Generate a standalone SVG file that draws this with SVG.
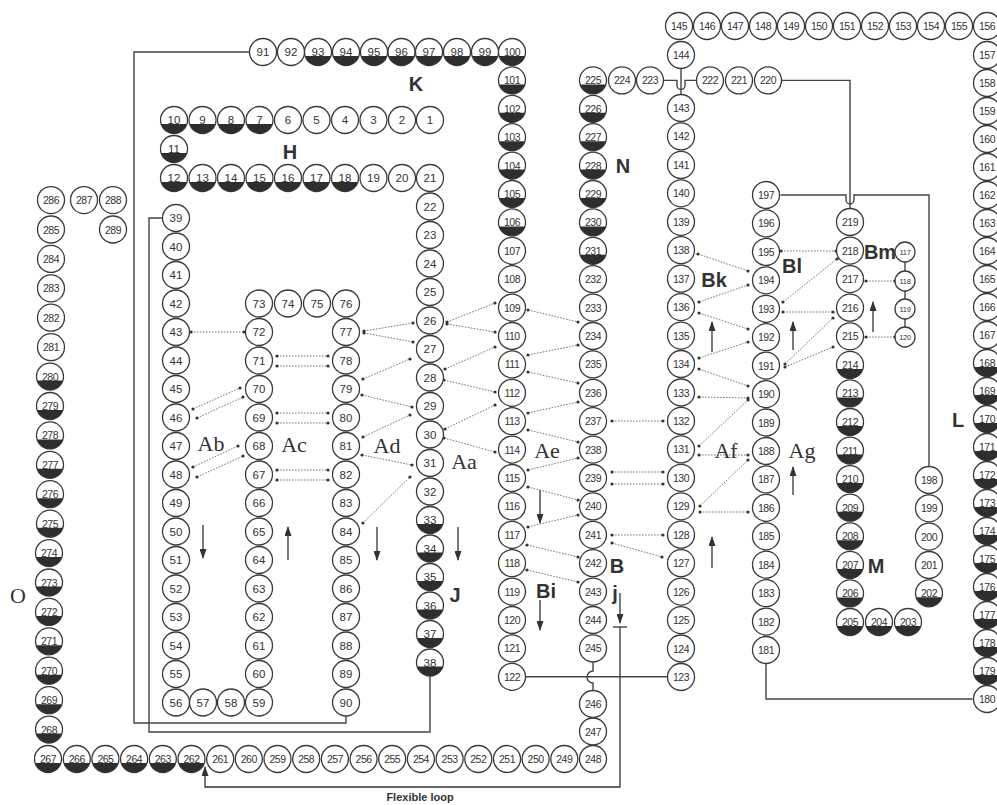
<svg xmlns="http://www.w3.org/2000/svg" width="997" height="805" viewBox="0 0 997 805">
<style>
.c{fill:#fff;stroke:#3a3a3a;stroke-width:1.3}
.cap{fill:#2e2e2e}
.n text{font-family:"Liberation Sans",Arial,sans-serif;font-size:11.5px;text-anchor:middle;fill:#333}
.n text.w{font-size:10.5px;letter-spacing:-0.5px}
.s text{font-family:"Liberation Sans",Arial,sans-serif;font-size:7.5px;text-anchor:middle;fill:#333;letter-spacing:-0.3px}
.ln{fill:none;stroke:#444;stroke-width:1.4}
.hb{stroke:#777;stroke-width:1;stroke-dasharray:1.6 1.4;marker-start:url(#dt);marker-end:url(#dt)}
.ar{fill:none;stroke:#333;stroke-width:1.3;marker-end:url(#ah)}
.lb{font-family:"Liberation Sans",Arial,sans-serif;font-weight:bold;font-size:20px;fill:#333;text-anchor:middle}
.ls{font-family:"Liberation Serif","Times New Roman",serif;font-size:22px;fill:#333;text-anchor:middle}
</style>
<defs>
<g id="W"><circle r="13.5" class="c"/></g>
<g id="D"><circle r="13.5" class="c"/><path class="cap" d="M-12.89,4 a13.5,13.5 0 0 0 25.78,0z"/></g>
<marker id="dt" viewBox="0 0 4 4" refX="2" refY="2" markerWidth="4" markerHeight="4" markerUnits="userSpaceOnUse"><circle cx="2" cy="2" r="1.6" fill="#333"/></marker>
<marker id="ah" viewBox="0 0 10 7" refX="9" refY="3.5" markerWidth="10" markerHeight="7" markerUnits="userSpaceOnUse" orient="auto"><path d="M0,0 L10,3.5 L0,7z" fill="#333"/></marker>
</defs>
<rect width="997" height="805" fill="#fff"/>
<g id="connectors">
<path class="ln" d="M346,716 V723 H134 V52 H249.5"/>
<path class="ln" d="M430,676 V732 H149 V218 H162.5"/>
<path class="ln" d="M781.5,80.4 H850 V208.5"/>
<path class="ln" d="M780.5,195 H846 v5 a4,4 0 0 0 8,0 v-5 H929 V466.5"/>
<path class="ln" d="M663.5,80.4 H677 v5 a4,4 0 0 0 8,0 v-5 H696.5"/>
<path class="ln" d="M681,68.5 V94.5"/>
<path class="ln" d="M525.5,676.8 H667.5"/>
<path class="ln" d="M593,662 V671 a6,6 0 0 0 0,12 V690.5"/>
<path class="ln" d="M766,663.5 V699 H972.5"/>
<path class="ln" d="M905,262 V271 M905,291 V299 M905,319 V327"/>
<path class="ln" d="M613,627 H627"/>
<path class="ar" d="M620,627 V787 H205 V767"/>
<path class="ar" d="M620,593 V623"/>
<path class="ar" d="M203,525 V558"/>
<path class="ar" d="M288,560 V527"/>
<path class="ar" d="M377,527 V560"/>
<path class="ar" d="M458,527 V560"/>
<path class="ar" d="M540,490 V523"/>
<path class="ar" d="M540,600 V630"/>
<path class="ar" d="M712,352 V322"/>
<path class="ar" d="M712,568 V537"/>
<path class="ar" d="M793,350 V322"/>
<path class="ar" d="M793,495 V467"/>
<path class="ar" d="M873,332 V302"/>
<line class="hb" x1="191" y1="332" x2="244" y2="332"/>
<line class="hb" x1="193" y1="409" x2="240" y2="388"/>
<line class="hb" x1="197" y1="418" x2="243" y2="397"/>
<line class="hb" x1="193" y1="467" x2="238" y2="446"/>
<line class="hb" x1="197" y1="477" x2="243" y2="456"/>
<line class="hb" x1="277" y1="356" x2="328" y2="356"/>
<line class="hb" x1="277" y1="366" x2="328" y2="366"/>
<line class="hb" x1="277" y1="413" x2="328" y2="413"/>
<line class="hb" x1="277" y1="423" x2="328" y2="423"/>
<line class="hb" x1="277" y1="470" x2="328" y2="470"/>
<line class="hb" x1="277" y1="480" x2="328" y2="480"/>
<line class="hb" x1="364" y1="331" x2="413" y2="323"/>
<line class="hb" x1="364" y1="333" x2="413" y2="342"/>
<line class="hb" x1="363" y1="379" x2="410" y2="359"/>
<line class="hb" x1="362" y1="395" x2="412" y2="407"/>
<line class="hb" x1="363" y1="437" x2="410" y2="415"/>
<line class="hb" x1="362" y1="455" x2="412" y2="465"/>
<line class="hb" x1="363" y1="523" x2="410" y2="477"/>
<line class="hb" x1="447" y1="322" x2="495" y2="303"/>
<line class="hb" x1="447" y1="324" x2="495" y2="332"/>
<line class="hb" x1="445" y1="369" x2="495" y2="347"/>
<line class="hb" x1="444" y1="380" x2="495" y2="392"/>
<line class="hb" x1="445" y1="429" x2="495" y2="405"/>
<line class="hb" x1="444" y1="438" x2="495" y2="452"/>
<line class="hb" x1="528" y1="310" x2="578" y2="322"/>
<line class="hb" x1="528" y1="355" x2="578" y2="345"/>
<line class="hb" x1="528" y1="372" x2="578" y2="383"/>
<line class="hb" x1="528" y1="413" x2="578" y2="402"/>
<line class="hb" x1="528" y1="430" x2="578" y2="442"/>
<line class="hb" x1="528" y1="470" x2="578" y2="458"/>
<line class="hb" x1="528" y1="487" x2="578" y2="500"/>
<line class="hb" x1="528" y1="527" x2="578" y2="515"/>
<line class="hb" x1="527" y1="545" x2="578" y2="557"/>
<line class="hb" x1="527" y1="570" x2="578" y2="582"/>
<line class="hb" x1="612" y1="421" x2="663" y2="421"/>
<line class="hb" x1="612" y1="472" x2="663" y2="472"/>
<line class="hb" x1="612" y1="484" x2="663" y2="484"/>
<line class="hb" x1="612" y1="535" x2="663" y2="535"/>
<line class="hb" x1="612" y1="543" x2="662" y2="557"/>
<line class="hb" x1="698" y1="254" x2="748" y2="271"/>
<line class="hb" x1="699" y1="302" x2="748" y2="285"/>
<line class="hb" x1="699" y1="313" x2="748" y2="329"/>
<line class="hb" x1="699" y1="358" x2="748" y2="342"/>
<line class="hb" x1="699" y1="369" x2="748" y2="386"/>
<line class="hb" x1="699" y1="397" x2="748" y2="398"/>
<line class="hb" x1="699" y1="446" x2="748" y2="400"/>
<line class="hb" x1="699" y1="455" x2="748" y2="455"/>
<line class="hb" x1="700" y1="506" x2="748" y2="460"/>
<line class="hb" x1="700" y1="512" x2="748" y2="512"/>
<line class="hb" x1="781" y1="251" x2="836" y2="251"/>
<line class="hb" x1="783" y1="302" x2="837" y2="259"/>
<line class="hb" x1="783" y1="312" x2="833" y2="312"/>
<line class="hb" x1="785" y1="364" x2="833" y2="318"/>
<line class="hb" x1="785" y1="367" x2="833" y2="347"/>
<line class="hb" x1="866" y1="281" x2="895" y2="281"/>
<line class="hb" x1="866" y1="337" x2="895" y2="337"/>
</g>
<g class="n">
<g id="n1" transform="translate(430,120)"><use href="#W"/><text y="4">1</text></g>
<g id="n2" transform="translate(402,120)"><use href="#W"/><text y="4">2</text></g>
<g id="n3" transform="translate(373.5,120)"><use href="#W"/><text y="4">3</text></g>
<g id="n4" transform="translate(345,120)"><use href="#W"/><text y="4">4</text></g>
<g id="n5" transform="translate(316.5,120)"><use href="#W"/><text y="4">5</text></g>
<g id="n6" transform="translate(288,120)"><use href="#W"/><text y="4">6</text></g>
<g id="n7" transform="translate(259.5,120)"><use href="#D"/><text y="4">7</text></g>
<g id="n8" transform="translate(231,120)"><use href="#D"/><text y="4">8</text></g>
<g id="n9" transform="translate(202.5,120)"><use href="#D"/><text y="4">9</text></g>
<g id="n10" transform="translate(174,120)"><use href="#D"/><text y="4">10</text></g>
<g id="n11" transform="translate(174,149)"><use href="#D"/><text y="4">11</text></g>
<g id="n12" transform="translate(174,178)"><use href="#D"/><text y="4">12</text></g>
<g id="n13" transform="translate(202.5,178)"><use href="#D"/><text y="4">13</text></g>
<g id="n14" transform="translate(231,178)"><use href="#D"/><text y="4">14</text></g>
<g id="n15" transform="translate(259.5,178)"><use href="#D"/><text y="4">15</text></g>
<g id="n16" transform="translate(288,178)"><use href="#D"/><text y="4">16</text></g>
<g id="n17" transform="translate(316.5,178)"><use href="#D"/><text y="4">17</text></g>
<g id="n18" transform="translate(345,178)"><use href="#D"/><text y="4">18</text></g>
<g id="n19" transform="translate(373.5,178)"><use href="#W"/><text y="4">19</text></g>
<g id="n20" transform="translate(402,178)"><use href="#W"/><text y="4">20</text></g>
<g id="n21" transform="translate(430,178)"><use href="#W"/><text y="4">21</text></g>
<g id="n22" transform="translate(430,206.5)"><use href="#W"/><text y="4">22</text></g>
<g id="n23" transform="translate(430,235)"><use href="#W"/><text y="4">23</text></g>
<g id="n24" transform="translate(430,263.5)"><use href="#W"/><text y="4">24</text></g>
<g id="n25" transform="translate(430,292)"><use href="#W"/><text y="4">25</text></g>
<g id="n26" transform="translate(430,320.5)"><use href="#W"/><text y="4">26</text></g>
<g id="n27" transform="translate(430,349)"><use href="#W"/><text y="4">27</text></g>
<g id="n28" transform="translate(430,377.5)"><use href="#W"/><text y="4">28</text></g>
<g id="n29" transform="translate(430,406)"><use href="#W"/><text y="4">29</text></g>
<g id="n30" transform="translate(430,434.5)"><use href="#W"/><text y="4">30</text></g>
<g id="n31" transform="translate(430,463)"><use href="#W"/><text y="4">31</text></g>
<g id="n32" transform="translate(430,491.5)"><use href="#W"/><text y="4">32</text></g>
<g id="n33" transform="translate(430,520)"><use href="#D"/><text y="4">33</text></g>
<g id="n34" transform="translate(430,548.5)"><use href="#D"/><text y="4">34</text></g>
<g id="n35" transform="translate(430,577)"><use href="#D"/><text y="4">35</text></g>
<g id="n36" transform="translate(430,605.5)"><use href="#D"/><text y="4">36</text></g>
<g id="n37" transform="translate(430,634)"><use href="#D"/><text y="4">37</text></g>
<g id="n38" transform="translate(430,662.5)"><use href="#D"/><text y="4">38</text></g>
<g id="n39" transform="translate(176,218)"><use href="#W"/><text y="4">39</text></g>
<g id="n40" transform="translate(176,246.5)"><use href="#W"/><text y="4">40</text></g>
<g id="n41" transform="translate(176,275)"><use href="#W"/><text y="4">41</text></g>
<g id="n42" transform="translate(176,303.5)"><use href="#W"/><text y="4">42</text></g>
<g id="n43" transform="translate(176,332)"><use href="#W"/><text y="4">43</text></g>
<g id="n44" transform="translate(176,360.5)"><use href="#W"/><text y="4">44</text></g>
<g id="n45" transform="translate(176,389)"><use href="#W"/><text y="4">45</text></g>
<g id="n46" transform="translate(176,417.5)"><use href="#W"/><text y="4">46</text></g>
<g id="n47" transform="translate(176,446)"><use href="#W"/><text y="4">47</text></g>
<g id="n48" transform="translate(176,474.5)"><use href="#W"/><text y="4">48</text></g>
<g id="n49" transform="translate(176,503)"><use href="#W"/><text y="4">49</text></g>
<g id="n50" transform="translate(176,531.5)"><use href="#W"/><text y="4">50</text></g>
<g id="n51" transform="translate(176,560)"><use href="#W"/><text y="4">51</text></g>
<g id="n52" transform="translate(176,588.5)"><use href="#W"/><text y="4">52</text></g>
<g id="n53" transform="translate(176,617)"><use href="#W"/><text y="4">53</text></g>
<g id="n54" transform="translate(176,645.5)"><use href="#W"/><text y="4">54</text></g>
<g id="n55" transform="translate(176,674)"><use href="#W"/><text y="4">55</text></g>
<g id="n56" transform="translate(176,702.5)"><use href="#W"/><text y="4">56</text></g>
<g id="n57" transform="translate(203,702.5)"><use href="#W"/><text y="4">57</text></g>
<g id="n58" transform="translate(231,702.5)"><use href="#W"/><text y="4">58</text></g>
<g id="n59" transform="translate(259,702.5)"><use href="#W"/><text y="4">59</text></g>
<g id="n60" transform="translate(259,674)"><use href="#W"/><text y="4">60</text></g>
<g id="n61" transform="translate(259,645.5)"><use href="#W"/><text y="4">61</text></g>
<g id="n62" transform="translate(259,617)"><use href="#W"/><text y="4">62</text></g>
<g id="n63" transform="translate(259,588.5)"><use href="#W"/><text y="4">63</text></g>
<g id="n64" transform="translate(259,560)"><use href="#W"/><text y="4">64</text></g>
<g id="n65" transform="translate(259,531.5)"><use href="#W"/><text y="4">65</text></g>
<g id="n66" transform="translate(259,503)"><use href="#W"/><text y="4">66</text></g>
<g id="n67" transform="translate(259,474.5)"><use href="#W"/><text y="4">67</text></g>
<g id="n68" transform="translate(259,446)"><use href="#W"/><text y="4">68</text></g>
<g id="n69" transform="translate(259,417.5)"><use href="#W"/><text y="4">69</text></g>
<g id="n70" transform="translate(259,389)"><use href="#W"/><text y="4">70</text></g>
<g id="n71" transform="translate(259,360.5)"><use href="#W"/><text y="4">71</text></g>
<g id="n72" transform="translate(259,332)"><use href="#W"/><text y="4">72</text></g>
<g id="n73" transform="translate(259,303.5)"><use href="#W"/><text y="4">73</text></g>
<g id="n74" transform="translate(288,303.5)"><use href="#W"/><text y="4">74</text></g>
<g id="n75" transform="translate(317,303.5)"><use href="#W"/><text y="4">75</text></g>
<g id="n76" transform="translate(346,303.5)"><use href="#W"/><text y="4">76</text></g>
<g id="n77" transform="translate(346,332)"><use href="#W"/><text y="4">77</text></g>
<g id="n78" transform="translate(346,360.5)"><use href="#W"/><text y="4">78</text></g>
<g id="n79" transform="translate(346,389)"><use href="#W"/><text y="4">79</text></g>
<g id="n80" transform="translate(346,417.5)"><use href="#W"/><text y="4">80</text></g>
<g id="n81" transform="translate(346,446)"><use href="#W"/><text y="4">81</text></g>
<g id="n82" transform="translate(346,474.5)"><use href="#W"/><text y="4">82</text></g>
<g id="n83" transform="translate(346,503)"><use href="#W"/><text y="4">83</text></g>
<g id="n84" transform="translate(346,531.5)"><use href="#W"/><text y="4">84</text></g>
<g id="n85" transform="translate(346,560)"><use href="#W"/><text y="4">85</text></g>
<g id="n86" transform="translate(346,588.5)"><use href="#W"/><text y="4">86</text></g>
<g id="n87" transform="translate(346,617)"><use href="#W"/><text y="4">87</text></g>
<g id="n88" transform="translate(346,645.5)"><use href="#W"/><text y="4">88</text></g>
<g id="n89" transform="translate(346,674)"><use href="#W"/><text y="4">89</text></g>
<g id="n90" transform="translate(346,702.5)"><use href="#W"/><text y="4">90</text></g>
<g id="n91" transform="translate(263,52)"><use href="#W"/><text y="4">91</text></g>
<g id="n92" transform="translate(291,52)"><use href="#W"/><text y="4">92</text></g>
<g id="n93" transform="translate(318,52)"><use href="#D"/><text y="4">93</text></g>
<g id="n94" transform="translate(346,52)"><use href="#D"/><text y="4">94</text></g>
<g id="n95" transform="translate(374,52)"><use href="#D"/><text y="4">95</text></g>
<g id="n96" transform="translate(401.5,52)"><use href="#D"/><text y="4">96</text></g>
<g id="n97" transform="translate(429,52)"><use href="#D"/><text y="4">97</text></g>
<g id="n98" transform="translate(457,52)"><use href="#D"/><text y="4">98</text></g>
<g id="n99" transform="translate(485,52)"><use href="#D"/><text y="4">99</text></g>
<g id="n100" transform="translate(512,52)"><use href="#D"/><text y="4" class="w">100</text></g>
<g id="n101" transform="translate(512,80.4)"><use href="#D"/><text y="4" class="w">101</text></g>
<g id="n102" transform="translate(512,108.8)"><use href="#D"/><text y="4" class="w">102</text></g>
<g id="n103" transform="translate(512,137.2)"><use href="#D"/><text y="4" class="w">103</text></g>
<g id="n104" transform="translate(512,165.6)"><use href="#D"/><text y="4" class="w">104</text></g>
<g id="n105" transform="translate(512,194)"><use href="#D"/><text y="4" class="w">105</text></g>
<g id="n106" transform="translate(512,222.4)"><use href="#D"/><text y="4" class="w">106</text></g>
<g id="n107" transform="translate(512,250.8)"><use href="#W"/><text y="4" class="w">107</text></g>
<g id="n108" transform="translate(512,279.2)"><use href="#W"/><text y="4" class="w">108</text></g>
<g id="n109" transform="translate(512,307.6)"><use href="#W"/><text y="4" class="w">109</text></g>
<g id="n110" transform="translate(512,336)"><use href="#W"/><text y="4" class="w">110</text></g>
<g id="n111" transform="translate(512,364.4)"><use href="#W"/><text y="4" class="w">111</text></g>
<g id="n112" transform="translate(512,392.8)"><use href="#W"/><text y="4" class="w">112</text></g>
<g id="n113" transform="translate(512,421.2)"><use href="#W"/><text y="4" class="w">113</text></g>
<g id="n114" transform="translate(512,449.6)"><use href="#W"/><text y="4" class="w">114</text></g>
<g id="n115" transform="translate(512,478)"><use href="#W"/><text y="4" class="w">115</text></g>
<g id="n116" transform="translate(512,506.4)"><use href="#W"/><text y="4" class="w">116</text></g>
<g id="n117" transform="translate(512,534.8)"><use href="#W"/><text y="4" class="w">117</text></g>
<g id="n118" transform="translate(512,563.2)"><use href="#W"/><text y="4" class="w">118</text></g>
<g id="n119" transform="translate(512,591.6)"><use href="#W"/><text y="4" class="w">119</text></g>
<g id="n120" transform="translate(512,620)"><use href="#W"/><text y="4" class="w">120</text></g>
<g id="n121" transform="translate(512,648.4)"><use href="#W"/><text y="4" class="w">121</text></g>
<g id="n122" transform="translate(512,676.8)"><use href="#W"/><text y="4" class="w">122</text></g>
<g id="n123" transform="translate(681,677)"><use href="#W"/><text y="4" class="w">123</text></g>
<g id="n124" transform="translate(681,648.5)"><use href="#W"/><text y="4" class="w">124</text></g>
<g id="n125" transform="translate(681,620.1)"><use href="#W"/><text y="4" class="w">125</text></g>
<g id="n126" transform="translate(681,591.6)"><use href="#W"/><text y="4" class="w">126</text></g>
<g id="n127" transform="translate(681,563.2)"><use href="#W"/><text y="4" class="w">127</text></g>
<g id="n128" transform="translate(681,534.7)"><use href="#W"/><text y="4" class="w">128</text></g>
<g id="n129" transform="translate(681,506.3)"><use href="#W"/><text y="4" class="w">129</text></g>
<g id="n130" transform="translate(681,477.8)"><use href="#W"/><text y="4" class="w">130</text></g>
<g id="n131" transform="translate(681,449.4)"><use href="#W"/><text y="4" class="w">131</text></g>
<g id="n132" transform="translate(681,420.9)"><use href="#W"/><text y="4" class="w">132</text></g>
<g id="n133" transform="translate(681,392.5)"><use href="#W"/><text y="4" class="w">133</text></g>
<g id="n134" transform="translate(681,364)"><use href="#W"/><text y="4" class="w">134</text></g>
<g id="n135" transform="translate(681,335.6)"><use href="#W"/><text y="4" class="w">135</text></g>
<g id="n136" transform="translate(681,307.1)"><use href="#W"/><text y="4" class="w">136</text></g>
<g id="n137" transform="translate(681,278.7)"><use href="#W"/><text y="4" class="w">137</text></g>
<g id="n138" transform="translate(681,250.2)"><use href="#W"/><text y="4" class="w">138</text></g>
<g id="n139" transform="translate(681,221.8)"><use href="#W"/><text y="4" class="w">139</text></g>
<g id="n140" transform="translate(681,193.3)"><use href="#W"/><text y="4" class="w">140</text></g>
<g id="n141" transform="translate(681,164.9)"><use href="#W"/><text y="4" class="w">141</text></g>
<g id="n142" transform="translate(681,136.4)"><use href="#W"/><text y="4" class="w">142</text></g>
<g id="n143" transform="translate(681,108)"><use href="#W"/><text y="4" class="w">143</text></g>
<g id="n144" transform="translate(681,55)"><use href="#W"/><text y="4" class="w">144</text></g>
<g id="n145" transform="translate(679,26)"><use href="#W"/><text y="4" class="w">145</text></g>
<g id="n146" transform="translate(707,26)"><use href="#W"/><text y="4" class="w">146</text></g>
<g id="n147" transform="translate(735,26)"><use href="#W"/><text y="4" class="w">147</text></g>
<g id="n148" transform="translate(763,26)"><use href="#W"/><text y="4" class="w">148</text></g>
<g id="n149" transform="translate(791,26)"><use href="#W"/><text y="4" class="w">149</text></g>
<g id="n150" transform="translate(819,26)"><use href="#W"/><text y="4" class="w">150</text></g>
<g id="n151" transform="translate(847,26)"><use href="#W"/><text y="4" class="w">151</text></g>
<g id="n152" transform="translate(875,26)"><use href="#W"/><text y="4" class="w">152</text></g>
<g id="n153" transform="translate(903,26)"><use href="#W"/><text y="4" class="w">153</text></g>
<g id="n154" transform="translate(931,26)"><use href="#W"/><text y="4" class="w">154</text></g>
<g id="n155" transform="translate(959,26)"><use href="#W"/><text y="4" class="w">155</text></g>
<g id="n156" transform="translate(987,26)"><use href="#W"/><text y="4" class="w">156</text></g>
<g id="n157" transform="translate(987,55)"><use href="#W"/><text y="4" class="w">157</text></g>
<g id="n158" transform="translate(987,83)"><use href="#W"/><text y="4" class="w">158</text></g>
<g id="n159" transform="translate(987,111)"><use href="#W"/><text y="4" class="w">159</text></g>
<g id="n160" transform="translate(987,139)"><use href="#W"/><text y="4" class="w">160</text></g>
<g id="n161" transform="translate(987,167)"><use href="#W"/><text y="4" class="w">161</text></g>
<g id="n162" transform="translate(987,195)"><use href="#W"/><text y="4" class="w">162</text></g>
<g id="n163" transform="translate(987,223)"><use href="#W"/><text y="4" class="w">163</text></g>
<g id="n164" transform="translate(987,251)"><use href="#W"/><text y="4" class="w">164</text></g>
<g id="n165" transform="translate(987,279)"><use href="#W"/><text y="4" class="w">165</text></g>
<g id="n166" transform="translate(987,307)"><use href="#W"/><text y="4" class="w">166</text></g>
<g id="n167" transform="translate(987,335)"><use href="#W"/><text y="4" class="w">167</text></g>
<g id="n168" transform="translate(987,363)"><use href="#D"/><text y="4" class="w">168</text></g>
<g id="n169" transform="translate(987,391)"><use href="#D"/><text y="4" class="w">169</text></g>
<g id="n170" transform="translate(987,419)"><use href="#D"/><text y="4" class="w">170</text></g>
<g id="n171" transform="translate(987,447)"><use href="#D"/><text y="4" class="w">171</text></g>
<g id="n172" transform="translate(987,475)"><use href="#D"/><text y="4" class="w">172</text></g>
<g id="n173" transform="translate(987,503)"><use href="#D"/><text y="4" class="w">173</text></g>
<g id="n174" transform="translate(987,531)"><use href="#D"/><text y="4" class="w">174</text></g>
<g id="n175" transform="translate(987,559)"><use href="#D"/><text y="4" class="w">175</text></g>
<g id="n176" transform="translate(987,587)"><use href="#D"/><text y="4" class="w">176</text></g>
<g id="n177" transform="translate(987,615)"><use href="#D"/><text y="4" class="w">177</text></g>
<g id="n178" transform="translate(987,643)"><use href="#D"/><text y="4" class="w">178</text></g>
<g id="n179" transform="translate(987,671)"><use href="#D"/><text y="4" class="w">179</text></g>
<g id="n180" transform="translate(987,699)"><use href="#W"/><text y="4" class="w">180</text></g>
<g id="n181" transform="translate(766,650)"><use href="#W"/><text y="4" class="w">181</text></g>
<g id="n182" transform="translate(766,621.6)"><use href="#W"/><text y="4" class="w">182</text></g>
<g id="n183" transform="translate(766,593.2)"><use href="#W"/><text y="4" class="w">183</text></g>
<g id="n184" transform="translate(766,564.7)"><use href="#W"/><text y="4" class="w">184</text></g>
<g id="n185" transform="translate(766,536.3)"><use href="#W"/><text y="4" class="w">185</text></g>
<g id="n186" transform="translate(766,507.8)"><use href="#W"/><text y="4" class="w">186</text></g>
<g id="n187" transform="translate(766,479.4)"><use href="#W"/><text y="4" class="w">187</text></g>
<g id="n188" transform="translate(766,451)"><use href="#W"/><text y="4" class="w">188</text></g>
<g id="n189" transform="translate(766,422.5)"><use href="#W"/><text y="4" class="w">189</text></g>
<g id="n190" transform="translate(766,394.1)"><use href="#W"/><text y="4" class="w">190</text></g>
<g id="n191" transform="translate(766,365.6)"><use href="#W"/><text y="4" class="w">191</text></g>
<g id="n192" transform="translate(766,337.2)"><use href="#W"/><text y="4" class="w">192</text></g>
<g id="n193" transform="translate(766,308.8)"><use href="#W"/><text y="4" class="w">193</text></g>
<g id="n194" transform="translate(766,280.3)"><use href="#W"/><text y="4" class="w">194</text></g>
<g id="n195" transform="translate(766,251.9)"><use href="#W"/><text y="4" class="w">195</text></g>
<g id="n196" transform="translate(766,223.4)"><use href="#W"/><text y="4" class="w">196</text></g>
<g id="n197" transform="translate(766,195)"><use href="#W"/><text y="4" class="w">197</text></g>
<g id="n198" transform="translate(929,480)"><use href="#W"/><text y="4" class="w">198</text></g>
<g id="n199" transform="translate(929,508.3)"><use href="#W"/><text y="4" class="w">199</text></g>
<g id="n200" transform="translate(929,536.6)"><use href="#W"/><text y="4" class="w">200</text></g>
<g id="n201" transform="translate(929,565)"><use href="#W"/><text y="4" class="w">201</text></g>
<g id="n202" transform="translate(929,593.3)"><use href="#D"/><text y="4" class="w">202</text></g>
<g id="n203" transform="translate(908,622)"><use href="#D"/><text y="4" class="w">203</text></g>
<g id="n204" transform="translate(879,622)"><use href="#D"/><text y="4" class="w">204</text></g>
<g id="n205" transform="translate(850,622)"><use href="#D"/><text y="4" class="w">205</text></g>
<g id="n206" transform="translate(850,593.4)"><use href="#D"/><text y="4" class="w">206</text></g>
<g id="n207" transform="translate(850,564.9)"><use href="#D"/><text y="4" class="w">207</text></g>
<g id="n208" transform="translate(850,536.3)"><use href="#D"/><text y="4" class="w">208</text></g>
<g id="n209" transform="translate(850,507.7)"><use href="#D"/><text y="4" class="w">209</text></g>
<g id="n210" transform="translate(850,479.1)"><use href="#D"/><text y="4" class="w">210</text></g>
<g id="n211" transform="translate(850,450.6)"><use href="#D"/><text y="4" class="w">211</text></g>
<g id="n212" transform="translate(850,422)"><use href="#D"/><text y="4" class="w">212</text></g>
<g id="n213" transform="translate(850,393.4)"><use href="#D"/><text y="4" class="w">213</text></g>
<g id="n214" transform="translate(850,364.9)"><use href="#D"/><text y="4" class="w">214</text></g>
<g id="n215" transform="translate(850,336.3)"><use href="#W"/><text y="4" class="w">215</text></g>
<g id="n216" transform="translate(850,307.7)"><use href="#W"/><text y="4" class="w">216</text></g>
<g id="n217" transform="translate(850,279.1)"><use href="#W"/><text y="4" class="w">217</text></g>
<g id="n218" transform="translate(850,250.6)"><use href="#W"/><text y="4" class="w">218</text></g>
<g id="n219" transform="translate(850,222)"><use href="#W"/><text y="4" class="w">219</text></g>
<g id="n220" transform="translate(768,80.4)"><use href="#W"/><text y="4" class="w">220</text></g>
<g id="n221" transform="translate(739,80.4)"><use href="#W"/><text y="4" class="w">221</text></g>
<g id="n222" transform="translate(710,80.4)"><use href="#W"/><text y="4" class="w">222</text></g>
<g id="n223" transform="translate(650,80.4)"><use href="#W"/><text y="4" class="w">223</text></g>
<g id="n224" transform="translate(622,80.4)"><use href="#W"/><text y="4" class="w">224</text></g>
<g id="n225" transform="translate(593,80.4)"><use href="#D"/><text y="4" class="w">225</text></g>
<g id="n226" transform="translate(593,108.8)"><use href="#D"/><text y="4" class="w">226</text></g>
<g id="n227" transform="translate(593,137.2)"><use href="#D"/><text y="4" class="w">227</text></g>
<g id="n228" transform="translate(593,165.6)"><use href="#D"/><text y="4" class="w">228</text></g>
<g id="n229" transform="translate(593,194)"><use href="#D"/><text y="4" class="w">229</text></g>
<g id="n230" transform="translate(593,222.4)"><use href="#D"/><text y="4" class="w">230</text></g>
<g id="n231" transform="translate(593,250.8)"><use href="#D"/><text y="4" class="w">231</text></g>
<g id="n232" transform="translate(593,279.2)"><use href="#W"/><text y="4" class="w">232</text></g>
<g id="n233" transform="translate(593,307.6)"><use href="#W"/><text y="4" class="w">233</text></g>
<g id="n234" transform="translate(593,336)"><use href="#W"/><text y="4" class="w">234</text></g>
<g id="n235" transform="translate(593,364.4)"><use href="#W"/><text y="4" class="w">235</text></g>
<g id="n236" transform="translate(593,392.8)"><use href="#W"/><text y="4" class="w">236</text></g>
<g id="n237" transform="translate(593,421.2)"><use href="#W"/><text y="4" class="w">237</text></g>
<g id="n238" transform="translate(593,449.6)"><use href="#W"/><text y="4" class="w">238</text></g>
<g id="n239" transform="translate(593,478)"><use href="#W"/><text y="4" class="w">239</text></g>
<g id="n240" transform="translate(593,506.4)"><use href="#W"/><text y="4" class="w">240</text></g>
<g id="n241" transform="translate(593,534.8)"><use href="#W"/><text y="4" class="w">241</text></g>
<g id="n242" transform="translate(593,563.2)"><use href="#W"/><text y="4" class="w">242</text></g>
<g id="n243" transform="translate(593,591.6)"><use href="#W"/><text y="4" class="w">243</text></g>
<g id="n244" transform="translate(593,620)"><use href="#W"/><text y="4" class="w">244</text></g>
<g id="n245" transform="translate(593,648.4)"><use href="#W"/><text y="4" class="w">245</text></g>
<g id="n246" transform="translate(593,704)"><use href="#W"/><text y="4" class="w">246</text></g>
<g id="n247" transform="translate(593,731.5)"><use href="#W"/><text y="4" class="w">247</text></g>
<g id="n248" transform="translate(593,759)"><use href="#W"/><text y="4" class="w">248</text></g>
<g id="n249" transform="translate(564.3,759)"><use href="#W"/><text y="4" class="w">249</text></g>
<g id="n250" transform="translate(535.6,759)"><use href="#W"/><text y="4" class="w">250</text></g>
<g id="n251" transform="translate(507,759)"><use href="#W"/><text y="4" class="w">251</text></g>
<g id="n252" transform="translate(478.3,759)"><use href="#W"/><text y="4" class="w">252</text></g>
<g id="n253" transform="translate(449.6,759)"><use href="#W"/><text y="4" class="w">253</text></g>
<g id="n254" transform="translate(420.9,759)"><use href="#W"/><text y="4" class="w">254</text></g>
<g id="n255" transform="translate(392.2,759)"><use href="#W"/><text y="4" class="w">255</text></g>
<g id="n256" transform="translate(363.6,759)"><use href="#W"/><text y="4" class="w">256</text></g>
<g id="n257" transform="translate(334.9,759)"><use href="#W"/><text y="4" class="w">257</text></g>
<g id="n258" transform="translate(306.2,759)"><use href="#W"/><text y="4" class="w">258</text></g>
<g id="n259" transform="translate(277.5,759)"><use href="#W"/><text y="4" class="w">259</text></g>
<g id="n260" transform="translate(248.8,759)"><use href="#W"/><text y="4" class="w">260</text></g>
<g id="n261" transform="translate(220.2,759)"><use href="#W"/><text y="4" class="w">261</text></g>
<g id="n262" transform="translate(191.5,759)"><use href="#D"/><text y="4" class="w">262</text></g>
<g id="n263" transform="translate(162.8,759)"><use href="#D"/><text y="4" class="w">263</text></g>
<g id="n264" transform="translate(134.1,759)"><use href="#D"/><text y="4" class="w">264</text></g>
<g id="n265" transform="translate(105.4,759)"><use href="#D"/><text y="4" class="w">265</text></g>
<g id="n266" transform="translate(76.8,759)"><use href="#D"/><text y="4" class="w">266</text></g>
<g id="n267" transform="translate(48,759)"><use href="#D"/><text y="4" class="w">267</text></g>
<g id="n268" transform="translate(49,729.6)"><use href="#D"/><text y="4" class="w">268</text></g>
<g id="n269" transform="translate(49,700.2)"><use href="#D"/><text y="4" class="w">269</text></g>
<g id="n270" transform="translate(49,670.7)"><use href="#D"/><text y="4" class="w">270</text></g>
<g id="n271" transform="translate(49,641.3)"><use href="#D"/><text y="4" class="w">271</text></g>
<g id="n272" transform="translate(49,611.9)"><use href="#D"/><text y="4" class="w">272</text></g>
<g id="n273" transform="translate(49,582.5)"><use href="#D"/><text y="4" class="w">273</text></g>
<g id="n274" transform="translate(49,553.1)"><use href="#D"/><text y="4" class="w">274</text></g>
<g id="n275" transform="translate(50,523.7)"><use href="#D"/><text y="4" class="w">275</text></g>
<g id="n276" transform="translate(50,494.2)"><use href="#D"/><text y="4" class="w">276</text></g>
<g id="n277" transform="translate(50,464.8)"><use href="#D"/><text y="4" class="w">277</text></g>
<g id="n278" transform="translate(50,435.4)"><use href="#D"/><text y="4" class="w">278</text></g>
<g id="n279" transform="translate(50,406)"><use href="#D"/><text y="4" class="w">279</text></g>
<g id="n280" transform="translate(50,376.6)"><use href="#D"/><text y="4" class="w">280</text></g>
<g id="n281" transform="translate(51,347.2)"><use href="#W"/><text y="4" class="w">281</text></g>
<g id="n282" transform="translate(51,317.7)"><use href="#W"/><text y="4" class="w">282</text></g>
<g id="n283" transform="translate(51,288.3)"><use href="#W"/><text y="4" class="w">283</text></g>
<g id="n284" transform="translate(51,258.9)"><use href="#W"/><text y="4" class="w">284</text></g>
<g id="n285" transform="translate(51,229.5)"><use href="#W"/><text y="4" class="w">285</text></g>
<g id="n286" transform="translate(51,200.1)"><use href="#W"/><text y="4" class="w">286</text></g>
<g id="n287" transform="translate(84,200.1)"><use href="#W"/><text y="4" class="w">287</text></g>
<g id="n288" transform="translate(113,200.1)"><use href="#W"/><text y="4" class="w">288</text></g>
<g id="n289" transform="translate(113,229.5)"><use href="#W"/><text y="4" class="w">289</text></g>
</g>
<g class="s">
<g id="s117" transform="translate(905,252)"><circle r="10" class="c"/><text y="2.7">117</text></g>
<g id="s118" transform="translate(905,281)"><circle r="10" class="c"/><text y="2.7">118</text></g>
<g id="s119" transform="translate(905,309)"><circle r="10" class="c"/><text y="2.7">119</text></g>
<g id="s120" transform="translate(905,337)"><circle r="10" class="c"/><text y="2.7">120</text></g>
</g>
<g id="labels">
<text class="lb" x="416" y="91">K</text>
<text class="lb" x="290" y="159">H</text>
<text class="lb" x="623" y="173">N</text>
<text class="lb" x="455" y="602">J</text>
<text class="lb" x="958" y="427">L</text>
<text class="lb" x="876" y="573">M</text>
<text class="ls" x="18" y="603">O</text>
<text class="ls" x="211" y="451">Ab</text>
<text class="ls" x="294" y="452">Ac</text>
<text class="ls" x="387" y="453">Ad</text>
<text class="ls" x="464" y="469">Aa</text>
<text class="ls" x="547" y="458">Ae</text>
<text class="ls" x="726" y="458">Af</text>
<text class="ls" x="802" y="458">Ag</text>
<text class="lb" x="714" y="287">Bk</text>
<text class="lb" x="792" y="273">Bl</text>
<text class="lb" x="880" y="259">Bm</text>
<text class="lb" x="546" y="598">Bi</text>
<text class="lb" x="617" y="573">B</text>
<text class="lb" x="615" y="600">j</text>
<text x="420" y="801" style="font-family:'Liberation Sans',Arial,sans-serif;font-weight:bold;font-size:11px;fill:#333;text-anchor:middle">Flexible loop</text>
</g>
</svg>
